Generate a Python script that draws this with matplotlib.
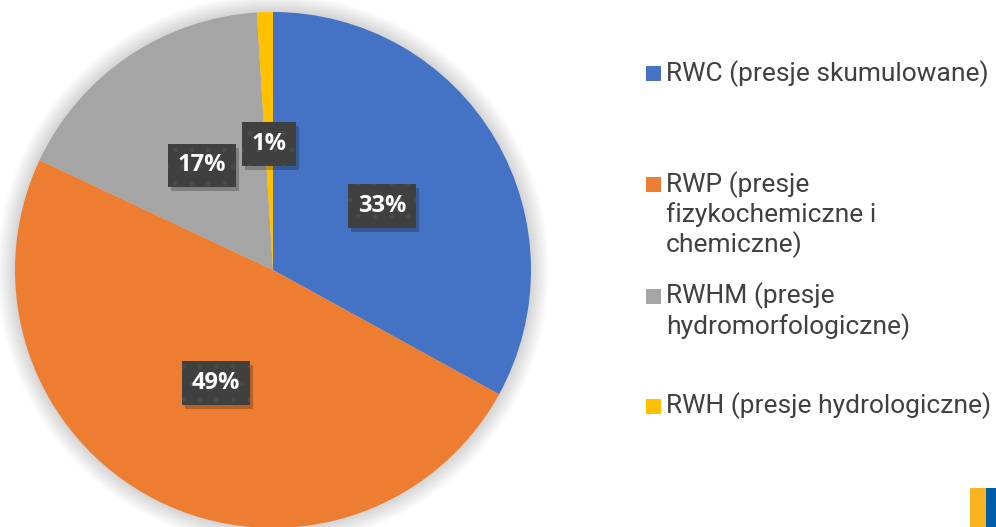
import matplotlib
matplotlib.use("Agg")
import matplotlib.pyplot as plt
import matplotlib.transforms as mtransforms
from matplotlib.patches import Rectangle, Circle

# Dane wykresu
categories = ["RWC", "RWP", "RWHM", "RWH"]
shares = [33, 49, 17, 1]
legend_labels = [
    "RWC (presje skumulowane)",
    "RWP (presje\nfizykochemiczne i\nchemiczne)",
    "RWHM (presje\nhydromorfologiczne)",
    "RWH (presje hydrologiczne)",
]
colors = ["#4472C4", "#ED7D31", "#A5A5A5", "#FFC000"]

W, H = 996, 527
fig = plt.figure(figsize=(W / 100, H / 100), dpi=100)
fig.patch.set_facecolor("white")

# Oś koła: środek (273, 270) px, promień 258 px
cx, cy, r = 273, 270, 258
ax = fig.add_axes([(cx - r) / W, (H - cy - r) / H, 2 * r / W, 2 * r / H])
ax.set_axis_off()

# Miękki cień wokół koła
for i in range(14):
    ax.add_patch(Circle((0, 0), 1 + 0.005 * (i + 1), facecolor="black",
                        edgecolor="none", alpha=0.011, zorder=0, clip_on=False))

wedges, texts, autotexts = ax.pie(
    shares, colors=colors, startangle=90, counterclock=False,
    autopct="%1.0f%%", pctdistance=0.49, radius=1,
    wedgeprops=dict(linewidth=0),
    textprops=dict(color="white", fontsize=17, fontweight="bold",
                   family=["Open Sans", "DejaVu Sans"]),
)
for w in wedges:
    w.set_zorder(2)
for t in autotexts:
    t.set_zorder(5)
    t.set_bbox(dict(boxstyle="square,pad=0.42", facecolor="#404040",
                    edgecolor="#4b4b4b", linewidth=0, hatch="."))

ax.set_xlim(-1, 1)
ax.set_ylim(-1, 1)
ax.set_aspect("equal")

# Cienie ramek etykiet (przesunięte o kilka pikseli)
fig.canvas.draw()
for t in autotexts:
    bb = t.get_bbox_patch().get_window_extent()
    ax.add_patch(Rectangle((bb.x0 + 3, bb.y0 - 4), bb.width, bb.height,
                           transform=mtransforms.IdentityTransform(),
                           facecolor="black", edgecolor="none", alpha=0.22,
                           zorder=4, clip_on=False))

# Legenda rysowana ręcznie (znacznik przy pierwszym wierszu)
legend_rows_y = [73.5, 184.5, 296, 406]
for lab, col, y in zip(legend_labels, colors, legend_rows_y):
    fig.patches.append(Rectangle((646 / W, 1 - (y + 7.5) / H), 15 / W, 15 / H,
                                 transform=fig.transFigure, facecolor=col,
                                 edgecolor="none"))
    fig.text(666 / W, 1 - (y - 13.5) / H, lab, ha="left", va="top",
             fontsize=19, color="#404040", family=["Roboto", "DejaVu Sans"],
             linespacing=1.2)

# Logo w prawym dolnym rogu
fig.patches.append(Rectangle((970 / W, 0), 16 / W, 39 / H, transform=fig.transFigure,
                             facecolor="#FBB41D", edgecolor="none"))
fig.patches.append(Rectangle((986 / W, 0), 10 / W, 39 / H, transform=fig.transFigure,
                             facecolor="#005CA9", edgecolor="none"))

fig.savefig("out.png", dpi=100)
